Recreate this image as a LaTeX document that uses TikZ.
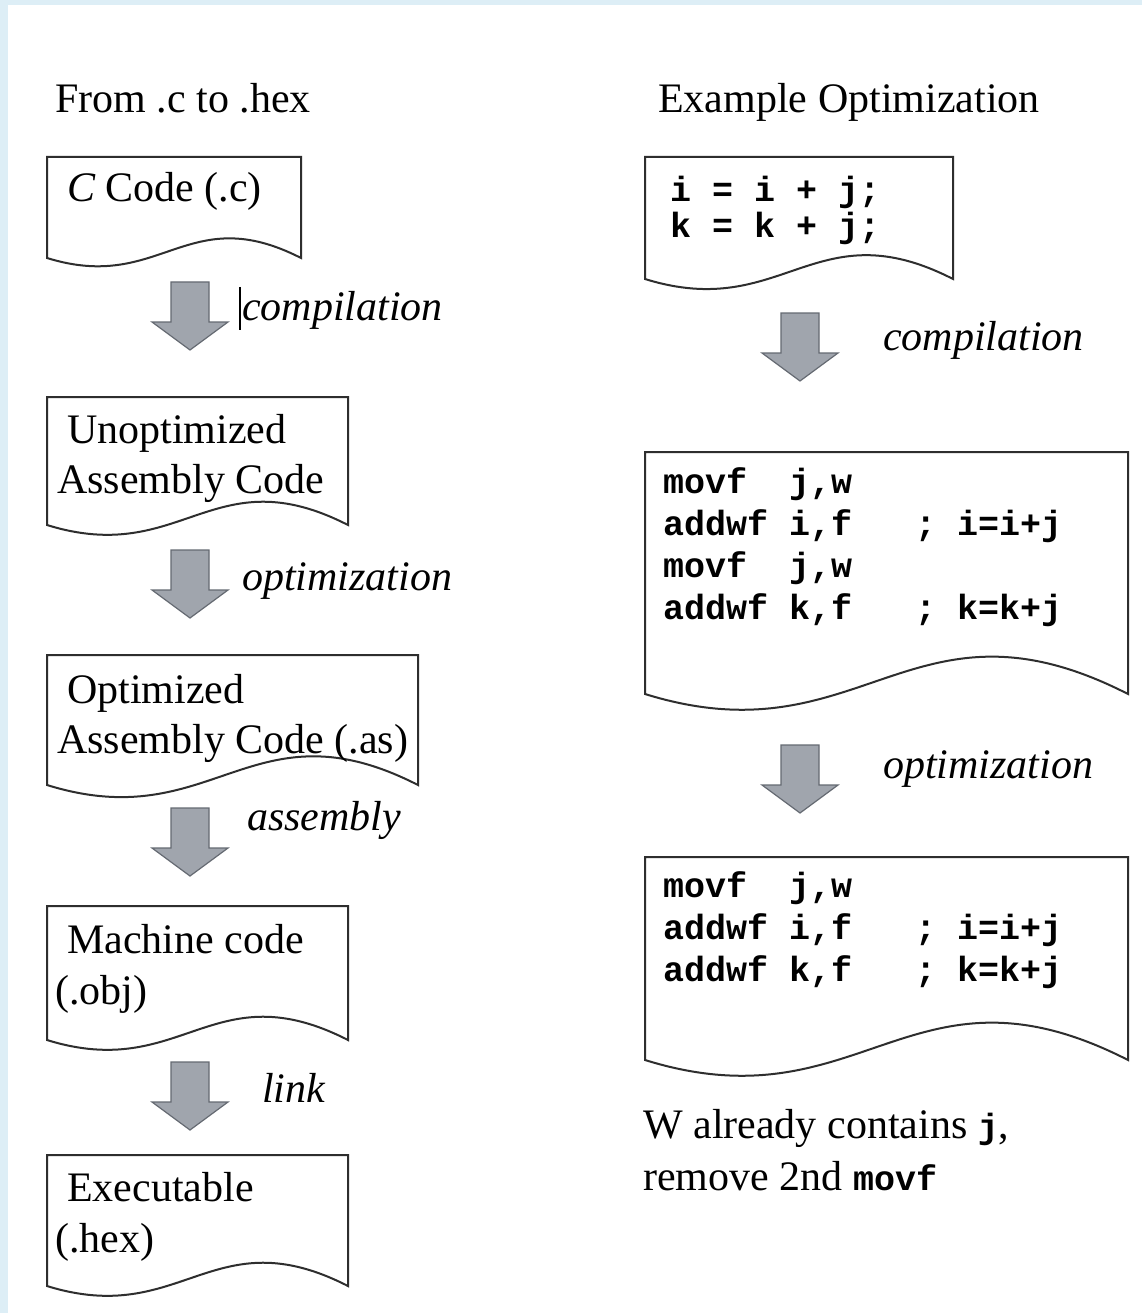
\documentclass[tikz,border=0pt]{standalone}
\usepackage{fontspec}
\setmainfont{Liberation Serif}
\setmonofont{Liberation Mono}
\usetikzlibrary{positioning}

\definecolor{framebg}{HTML}{DDEEF6}
\definecolor{arrowgray}{HTML}{A0A5AD}
\definecolor{arrowedge}{HTML}{656A72}
\definecolor{inkgray}{HTML}{2E2E2E}

% document shape: name, left, top, right, bottom (pixel units, y down)
\newcommand{\docbox}[5]{%
  \pgfmathsetmacro{\dw}{#4-#2}
  \draw[doc line] (#2,#5) -- (#2,#3) -- (#4,#3) -- (#4,#5)
    .. controls ({#2+0.55*\dw},{#5-0.23*\dw}) and ({#2+0.45*\dw},{#5+0.14*\dw}) .. (#2,#5) -- cycle;
  \coordinate (#1) at ({(#2+#4)/2},{#3});
}

\begin{document}
\begin{tikzpicture}[x=1pt,y=-1pt,
    doc line/.style={draw=inkgray,line width=2pt,line join=miter},
    flow arrow/.style={fill=arrowgray,draw=arrowedge,line width=1.2pt},
    box text/.style={anchor=base west,inner sep=0pt,font=\fontsize{42}{50}\selectfont},
    step text/.style={box text,font=\fontsize{42}{50}\selectfont\itshape},
    code text/.style={anchor=base west,inner sep=0pt,font=\fontsize{35}{42}\selectfont\ttfamily\bfseries},
    down arrow/.pic={\draw[flow arrow] (-19,0) -- (19,0) -- (19,40) -- (38,40)
      -- (0,68) -- (-38,40) -- (-19,40) -- cycle;}]
  \useasboundingbox (0,0) rectangle (1142,1313);
  \fill[framebg] (0,0) rectangle (1142,1313);
  \fill[white] (8,5) rectangle (1142,1313);

  % left column
  \node[box text] (lefttitle) at (55,113) {From .c to .hex};

  \docbox{csrc}{47}{157}{301}{258}
  \node[box text] (csrctxt) at (67,202) {{\itshape C} Code (.c)};
  \pic (compA) at (190,282) {down arrow};
  \draw[black,line width=1.2pt] (240,287) -- (240,330);
  \node[step text] (compAtxt) at (242,320) {compilation};

  \docbox{unopt}{47}{397}{348}{525}
  \node[box text] (unoptA) at (67,443) {Unoptimized};
  \node[box text] (unoptB) at (57,493) {Assembly Code};
  \pic (optA) at (190,550) {down arrow};
  \node[step text] (optAtxt) at (242,590) {optimization};

  \docbox{opt}{47}{655}{418}{785}
  \node[box text] (optLA) at (67,703) {Optimized};
  \node[box text] (optLB) at (57,753) {Assembly Code (.as)};
  \pic (asmA) at (190,808) {down arrow};
  \node[step text] (asmAtxt) at (247,830) {assembly};

  \docbox{mach}{47}{906}{348}{1040}
  \node[box text] (machA) at (67,953) {Machine code};
  \node[box text] (machB) at (55,1004) {(.obj)};
  \pic (linkA) at (190,1062) {down arrow};
  \node[step text] (linkAtxt) at (262,1102) {link};

  \docbox{exe}{47}{1155}{348}{1286}
  \node[box text] (exeA) at (67,1201) {Executable};
  \node[box text] (exeB) at (55,1252) {(.hex)};

  % right column
  \node[box text] (righttitle) at (658,113) {Example Optimization};

  \docbox{srcR}{645}{157}{953}{279}
  \node[code text] (srcRA) at (670,202) {i = i + j;};
  \node[code text] (srcRB) at (670,238) {k = k + j;};
  \pic (compB) at (800,313) {down arrow};
  \node[step text] (compBtxt) at (883,350) {compilation};

  \docbox{asmR}{645}{452}{1128}{694}
  \node[code text] (asmRA) at (663,493) {movf\ \ j,w};
  \node[code text] (asmRB) at (663,535) {addwf i,f\ \ \ ; i=i+j};
  \node[code text] (asmRC) at (663,577) {movf\ \ j,w};
  \node[code text] (asmRD) at (663,619) {addwf k,f\ \ \ ; k=k+j};
  \pic (optB) at (800,745) {down arrow};
  \node[step text] (optBtxt) at (883,778) {optimization};

  \docbox{optR}{645}{857}{1128}{1060}
  \node[code text] (optRA) at (663,897) {movf\ \ j,w};
  \node[code text] (optRB) at (663,939) {addwf i,f\ \ \ ; i=i+j};
  \node[code text] (optRC) at (663,981) {addwf k,f\ \ \ ; k=k+j};

  \node[box text] (noteA) at (643,1138) {W already contains {\fontsize{35}{42}\selectfont\ttfamily\bfseries j},};
  \node[box text] (noteB) at (643,1190) {remove 2nd {\fontsize{35}{42}\selectfont\ttfamily\bfseries movf}};
\end{tikzpicture}
\end{document}
